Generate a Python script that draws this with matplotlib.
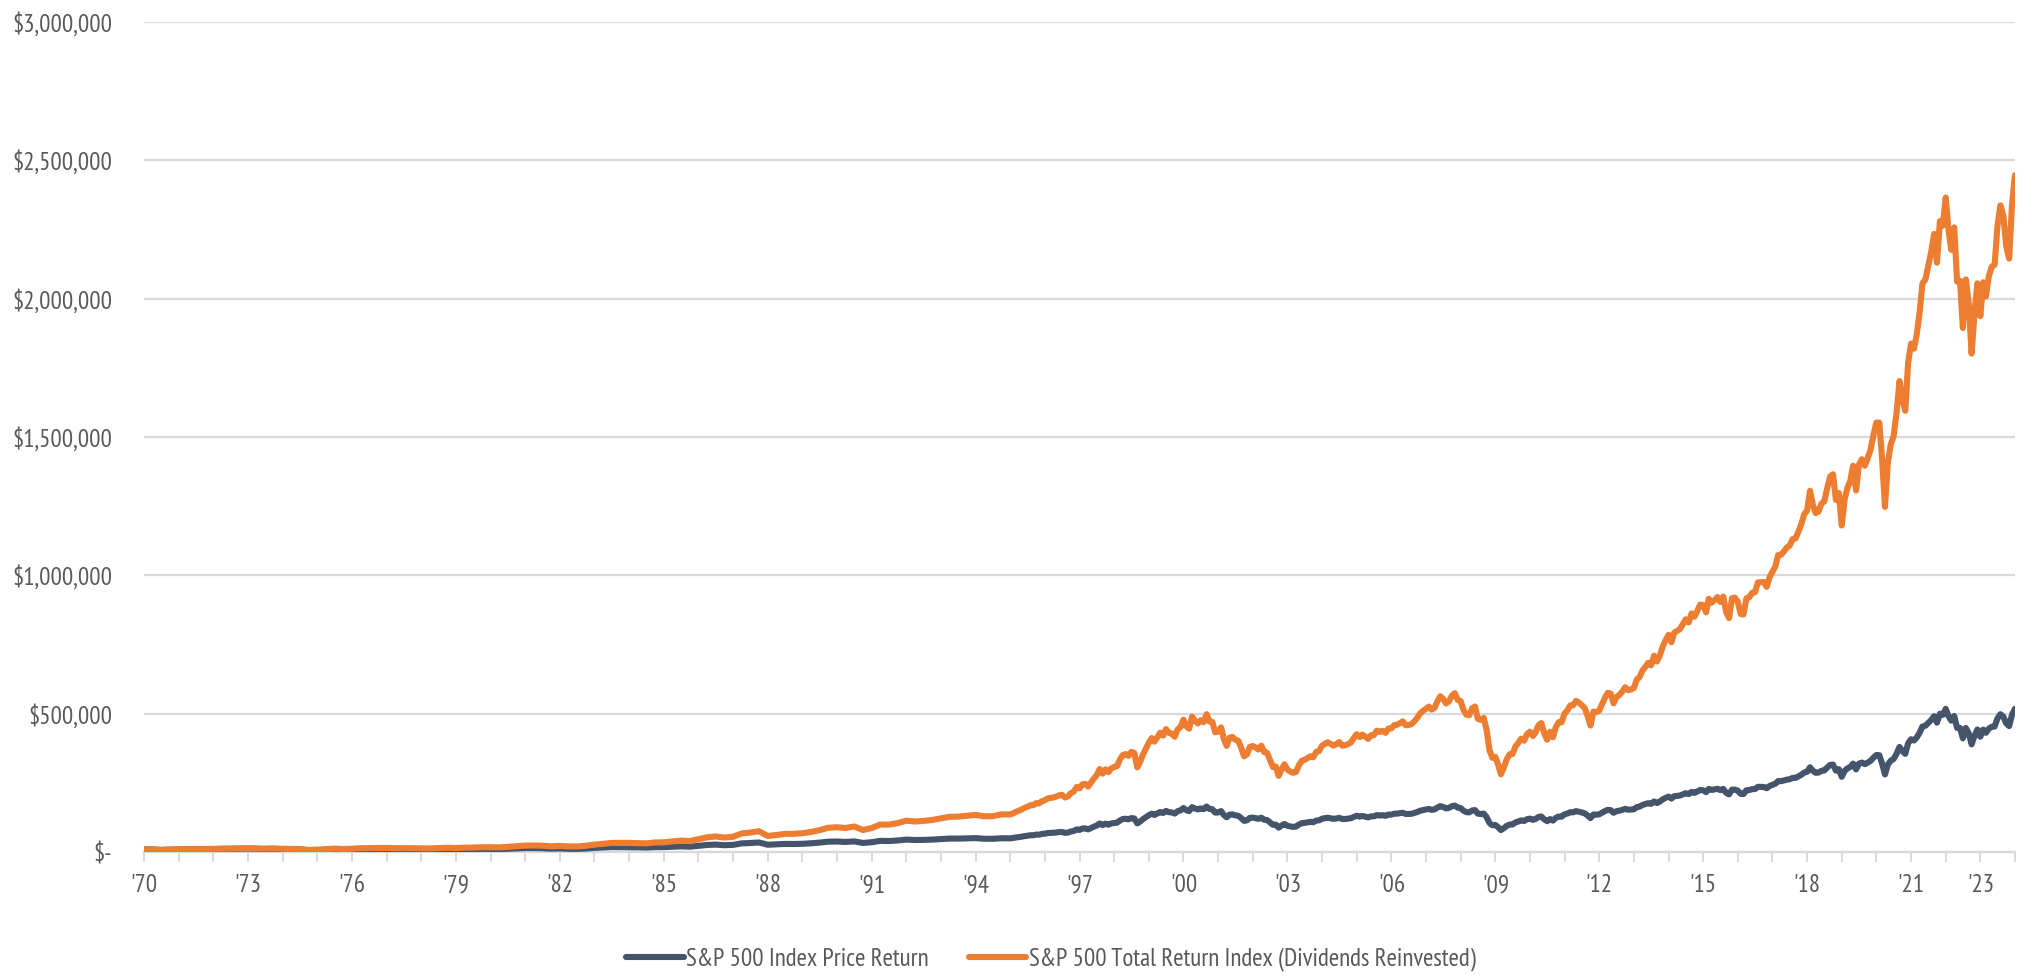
import numpy as np
import matplotlib
matplotlib.use("Agg")
import matplotlib.pyplot as plt
from matplotlib.ticker import FuncFormatter, FixedLocator
from matplotlib.lines import Line2D

# growth of $10,000 invested at the end of 1969
start_value = 10000
start_level = 92.06

# S&P 500 price index level, quarter ends 1969-Q4 .. 1994-Q4
price_level_quarterly = [
    92.06,
    89.63, 72.72, 84.21, 92.15, 100.31, 99.70, 98.34, 102.09,
    107.20, 107.14, 110.55, 118.05, 111.52, 104.26, 108.43, 97.55,
    93.98, 86.00, 63.54, 68.56, 83.36, 95.19, 83.87, 90.19,
    102.77, 104.28, 105.24, 107.46, 98.42, 100.48, 96.53, 95.10,
    89.21, 95.53, 102.54, 96.11, 101.59, 102.91, 109.32, 107.94,
    102.09, 114.24, 125.46, 135.76, 136.00, 131.21, 116.18, 122.55,
    111.96, 109.61, 120.42, 140.64, 152.96, 168.11, 166.07, 164.93,
    159.18, 153.18, 166.10, 167.24, 180.66, 191.85, 182.08, 211.28,
    238.90, 250.84, 231.32, 242.17, 291.70, 304.00, 321.83, 247.08,
    258.89, 273.50, 271.91, 277.72, 294.87, 317.98, 349.15, 353.40,
    339.94, 358.02, 306.05, 330.22, 375.22, 371.16, 387.86, 417.09,
    403.69, 408.14, 417.80, 435.71, 451.67, 450.53, 458.93, 466.45,
    445.77, 444.27, 462.69, 459.27,
]

# S&P 500 total return level (same base), quarter ends 1969-Q4 .. 1994-Q4
total_level_quarterly = [
    92.06,
    90.49, 74.12, 86.64, 95.69, 104.97, 105.13, 104.50, 109.30,
    115.55, 116.26, 120.76, 129.81, 123.76, 116.77, 122.54, 111.24,
    108.62, 100.73, 75.41, 82.43, 101.27, 116.82, 103.97, 112.93,
    129.94, 133.13, 135.65, 139.84, 129.71, 134.10, 130.43, 130.08,
    123.66, 134.19, 145.92, 138.54, 148.46, 152.45, 164.12, 164.20,
    157.38, 178.43, 198.52, 217.57, 220.86, 215.88, 193.64, 206.86,
    191.79, 190.50, 212.29, 251.45, 276.57, 307.34, 306.96, 308.17,
    300.99, 293.09, 321.54, 327.49, 357.54, 383.70, 367.97, 431.39,
    492.09, 521.22, 484.82, 511.92, 621.50, 652.78, 696.44, 538.81,
    569.87, 607.61, 609.65, 628.34, 672.95, 731.99, 810.62, 827.45,
    803.31, 853.77, 736.48, 801.77, 918.54, 916.02, 964.96, 1046.02,
    1020.09, 1039.08, 1071.62, 1125.83, 1175.29, 1180.57, 1210.93, 1239.26,
    1192.93, 1197.44, 1256.02, 1255.55,
]

# S&P 500 price index level, month ends Jan 1995 .. Dec 2023
price_level_monthly = [
    470.42, 487.39, 500.71, 514.71, 533.40, 544.75, 562.06, 561.88, 584.41, 581.50, 605.37, 615.93,
    636.02, 640.43, 645.50, 654.17, 669.12, 670.63, 639.95, 651.99, 687.31, 705.27, 757.02, 740.74,
    786.16, 790.82, 757.12, 801.34, 848.28, 885.14, 954.31, 899.47, 947.28, 914.62, 955.40, 970.43,
    980.28, 1049.34, 1101.75, 1111.75, 1090.82, 1133.84, 1120.67, 957.28, 1017.01, 1098.67, 1163.63, 1229.23,
    1279.64, 1238.33, 1286.37, 1335.18, 1301.84, 1372.71, 1328.72, 1320.41, 1282.71, 1362.93, 1388.91, 1469.25,
    1394.46, 1366.42, 1498.58, 1452.43, 1420.60, 1454.60, 1430.83, 1517.68, 1436.51, 1429.40, 1314.95, 1320.28,
    1366.01, 1239.94, 1160.33, 1249.46, 1255.82, 1224.42, 1211.23, 1133.58, 1040.94, 1059.78, 1139.45, 1148.08,
    1130.20, 1106.73, 1147.39, 1076.92, 1067.14, 989.82, 911.62, 916.07, 815.28, 885.76, 936.31, 879.82,
    855.70, 841.15, 848.18, 916.92, 963.59, 974.50, 990.31, 1008.01, 995.97, 1050.71, 1058.20, 1111.92,
    1131.13, 1144.94, 1126.21, 1107.30, 1120.68, 1140.84, 1101.72, 1104.24, 1114.58, 1130.20, 1173.82, 1211.92,
    1181.27, 1203.60, 1180.59, 1156.85, 1191.50, 1191.33, 1234.18, 1220.33, 1228.81, 1207.01, 1249.48, 1248.29,
    1280.08, 1280.66, 1294.87, 1310.61, 1270.09, 1270.20, 1276.66, 1303.82, 1335.85, 1377.94, 1400.63, 1418.30,
    1438.24, 1406.82, 1420.86, 1482.37, 1530.62, 1503.35, 1455.27, 1473.99, 1526.75, 1549.38, 1481.14, 1468.36,
    1378.55, 1330.63, 1322.70, 1385.59, 1400.38, 1280.00, 1267.38, 1282.83, 1166.36, 968.75, 896.24, 903.25,
    825.88, 735.09, 797.87, 872.81, 919.14, 919.32, 987.48, 1020.62, 1057.08, 1036.19, 1095.63, 1115.10,
    1073.87, 1104.49, 1169.43, 1186.69, 1089.41, 1030.71, 1101.60, 1049.33, 1141.20, 1183.26, 1180.55, 1257.64,
    1286.12, 1327.22, 1325.83, 1363.61, 1345.20, 1320.64, 1292.28, 1218.89, 1131.42, 1253.30, 1246.96, 1257.60,
    1312.41, 1365.68, 1408.47, 1397.91, 1310.33, 1362.16, 1379.32, 1406.58, 1440.67, 1412.16, 1416.18, 1426.19,
    1498.11, 1514.68, 1569.19, 1597.57, 1630.74, 1606.28, 1685.73, 1632.97, 1681.55, 1756.54, 1805.81, 1848.36,
    1782.59, 1859.45, 1872.34, 1883.95, 1923.57, 1960.23, 1930.67, 2003.37, 1972.29, 2018.05, 2067.56, 2058.90,
    1994.99, 2104.50, 2067.89, 2085.51, 2107.39, 2063.11, 2103.84, 1972.18, 1920.03, 2079.36, 2080.41, 2043.94,
    1940.24, 1932.23, 2059.74, 2065.30, 2096.95, 2098.86, 2173.60, 2170.95, 2168.27, 2126.15, 2198.81, 2238.83,
    2278.87, 2363.64, 2362.72, 2384.20, 2411.80, 2423.41, 2470.30, 2471.65, 2519.36, 2575.26, 2647.58, 2673.61,
    2823.81, 2713.83, 2640.87, 2648.05, 2705.27, 2718.37, 2816.29, 2901.52, 2913.98, 2711.74, 2760.17, 2506.85,
    2704.10, 2784.49, 2834.40, 2945.83, 2752.06, 2941.76, 2980.38, 2926.46, 2976.74, 3037.56, 3140.98, 3230.78,
    3225.52, 2954.22, 2584.59, 2912.43, 3044.31, 3100.29, 3271.12, 3500.31, 3363.00, 3269.96, 3621.63, 3756.07,
    3714.24, 3811.15, 3972.89, 4181.17, 4204.11, 4297.50, 4395.26, 4522.68, 4307.54, 4605.38, 4567.00, 4766.18,
    4515.55, 4373.94, 4530.41, 4131.93, 4132.15, 3785.38, 4130.29, 3955.00, 3585.62, 3871.98, 4080.11, 3839.50,
    4076.60, 3970.15, 4109.31, 4169.48, 4179.83, 4450.38, 4588.96, 4507.66, 4288.05, 4193.80, 4567.80, 4769.83,
]

# S&P 500 total return level (same base), month ends Jan 1995 .. Dec 2023
total_level_monthly = [
    1288.8, 1338.2, 1377.7, 1419.3, 1473.9, 1508.5, 1559.8, 1562.6, 1628.7, 1624.0, 1694.3, 1727.4,
    1787.2, 1802.9, 1820.6, 1848.4, 1894.2, 1902.0, 1818.4, 1856.0, 1960.1, 2015.1, 2166.9, 2124.2,
    2257.9, 2274.6, 2180.9, 2311.7, 2450.8, 2561.1, 2765.2, 2610.2, 2753.0, 2662.0, 2784.7, 2832.7,
    2865.1, 3070.8, 3228.1, 3261.5, 3204.2, 3334.7, 3300.0, 2822.4, 3002.3, 3247.5, 3443.6, 3642.3,
    3795.7, 3677.0, 3823.6, 3972.8, 3877.7, 4093.1, 3966.1, 3945.4, 3836.7, 4080.9, 4163.0, 4408.3,
    4188.0, 4107.7, 4509.4, 4374.7, 4283.0, 4389.7, 4322.1, 4588.9, 4347.6, 4330.2, 3987.3, 4007.3,
    4150.6, 3771.8, 3533.4, 3809.1, 3832.6, 3741.0, 3704.7, 3470.9, 3190.8, 3252.0, 3500.4, 3530.7,
    3480.6, 3412.9, 3543.3, 3330.2, 3304.5, 3069.2, 2830.7, 2848.3, 2538.5, 2761.6, 2923.3, 2750.6,
    2679.2, 2637.7, 2663.7, 2883.9, 3035.3, 3074.3, 3128.9, 3189.6, 3156.2, 3334.6, 3363.5, 3539.5,
    3605.8, 3655.1, 3600.5, 3545.1, 3593.1, 3663.0, 3542.4, 3555.5, 3594.0, 3649.5, 3795.8, 3924.6,
    3831.2, 3909.7, 3840.8, 3769.4, 3888.2, 3893.6, 4039.7, 4000.5, 4034.4, 3968.9, 4114.8, 4117.1,
    4228.7, 4237.3, 4291.2, 4350.2, 4222.4, 4229.4, 4257.7, 4355.0, 4469.1, 4617.1, 4700.5, 4767.2,
    4841.8, 4743.5, 4798.4, 5014.0, 5185.3, 5100.9, 4945.3, 5016.7, 5204.4, 5289.7, 5064.6, 5028.7,
    4730.6, 4575.4, 4557.2, 4783.5, 4844.2, 4436.7, 4401.7, 4464.2, 4067.0, 3384.6, 3137.5, 3168.2,
    2902.7, 2588.9, 2815.7, 3086.3, 3256.8, 3264.0, 3513.0, 3638.2, 3775.7, 3708.4, 3929.0, 4006.8,
    3865.2, 3982.0, 4223.3, 4292.7, 3947.5, 3741.0, 4005.0, 3821.2, 4162.8, 4323.3, 4320.6, 4610.3,
    4722.9, 4882.4, 4885.8, 5033.9, 4974.6, 4892.3, 4795.5, 4531.0, 4213.2, 4675.1, 4659.5, 4707.3,
    4921.8, 5131.3, 5302.2, 5272.4, 4951.3, 5156.9, 5231.6, 5345.0, 5484.9, 5386.4, 5411.8, 5460.2,
    5745.9, 5819.7, 6040.0, 6160.1, 6299.2, 6215.8, 6534.7, 6341.5, 6541.6, 6845.4, 7049.7, 7228.6,
    6983.3, 7296.9, 7360.2, 7418.4, 7587.3, 7745.1, 7641.2, 7942.4, 7832.6, 8027.8, 8238.6, 8217.9,
    7977.0, 8429.8, 8297.8, 8383.1, 8486.0, 8322.4, 8501.6, 7983.6, 7786.1, 8446.8, 8465.8, 8331.9,
    7923.8, 7905.5, 8442.7, 8481.0, 8626.6, 8650.5, 8974.8, 8980.1, 8985.3, 8826.7, 9144.9, 9328.1,
    9510.9, 9881.2, 9893.9, 10000.5, 10133.2, 10199.2, 10413.8, 10436.8, 10655.9, 10910.4, 11235.3, 11364.5,
    12022.7, 11573.4, 11281.0, 11330.2, 11594.0, 11669.2, 12109.2, 12496.0, 12570.3, 11716.9, 11945.5, 10866.7,
    11741.5, 12111.1, 12348.9, 12855.9, 12030.6, 12881.4, 13072.2, 12857.4, 13100.0, 13389.9, 13869.0, 14289.1,
    14287.8, 13106.1, 11483.9, 12960.0, 13567.6, 13838.1, 14622.9, 15671.2, 15079.4, 14684.1, 16287.9, 16918.1,
    16749.7, 17207.0, 17958.7, 18922.7, 19048.8, 19495.2, 19962.4, 20565.1, 19610.1, 20990.9, 20840.1, 21774.8,
    20658.2, 20037.9, 20783.3, 18980.9, 19007.9, 17436.6, 19051.4, 18267.8, 16583.9, 17932.7, 18922.3, 17830.6,
    18957.8, 18488.6, 19162.9, 19470.2, 19545.3, 20839.4, 21517.6, 21165.3, 20161.6, 19745.7, 21535.8, 22518.8,
]

series_names = ["S&P 500 Index Price Return",
                "S&P 500 Total Return Index (Dividends Reinvested)"]
series_colors = ["#44546A", "#ED7D31"]

# dates: each month end is plotted at the first day of the next month
quarter_dates = np.arange(np.datetime64("1970-01"), np.datetime64("1995-02"), 3)
month_dates = np.arange(np.datetime64("1995-02"), np.datetime64("2024-02"))
dates = np.concatenate([quarter_dates, month_dates]).astype("datetime64[D]")

price_value = np.array(price_level_quarterly + price_level_monthly) / start_level * start_value
total_value = np.array(total_level_quarterly + total_level_monthly) / start_level * start_value

# condensed face like the original; falls back to Roboto
plt.rcParams["font.family"] = ["PT Sans Narrow", "Roboto Condensed", "Roboto", "DejaVu Sans"]
text_color = "#595959"
grid_color = "#D9D9D9"
fs = 18

fig = plt.figure(figsize=(20.21, 9.75), dpi=100)
ax = fig.add_axes([0.0713, 0.126, 0.9257, 0.8515])

for vals, name, col in zip([price_value, total_value], series_names, series_colors):
    ax.plot(dates, vals, color=col, lw=4.4, label=name,
            solid_joinstyle="round", solid_capstyle="round", zorder=3)

ax.set_ylim(0, 3000000)
ax.set_xlim(np.datetime64("1970-01-01"), np.datetime64("2024-01-01"))

ax.set_yticks(np.arange(0, 3000001, 500000))
ax.yaxis.set_major_formatter(FuncFormatter(
    lambda v, _: "$-" if v == 0 else "${:,.0f}".format(v)))
ax.grid(axis="y", color=grid_color, lw=1.6, zorder=0)
ax.tick_params(axis="y", length=0, pad=23, labelsize=fs, labelcolor=text_color)

tick_years = list(range(1970, 2025))
label_years = list(range(1970, 2022, 3)) + [2023]
ax.xaxis.set_major_locator(FixedLocator(
    [matplotlib.dates.date2num(np.datetime64(f"{y}-01-01")) for y in tick_years]))
ax.set_xticklabels(["'{:02d}".format(y % 100) if y in label_years else "" for y in tick_years])
ax.tick_params(axis="x", length=7, width=1.4, color=grid_color, pad=9,
               labelsize=fs, labelcolor=text_color)

for s in ["top", "right", "left"]:
    ax.spines[s].set_visible(False)
ax.spines["bottom"].set_color(grid_color)
ax.spines["bottom"].set_linewidth(1.6)

handles = [Line2D([], [], color=c, lw=4.4, solid_capstyle="round") for c in series_colors]
fig.legend(handles, series_names, loc="center", bbox_to_anchor=(0.52, 0.016),
           ncol=2, frameon=False, fontsize=fs, labelcolor=text_color,
           handlelength=2.3, handletextpad=0.1, columnspacing=1.6)

fig.savefig("out.png", dpi=100)
